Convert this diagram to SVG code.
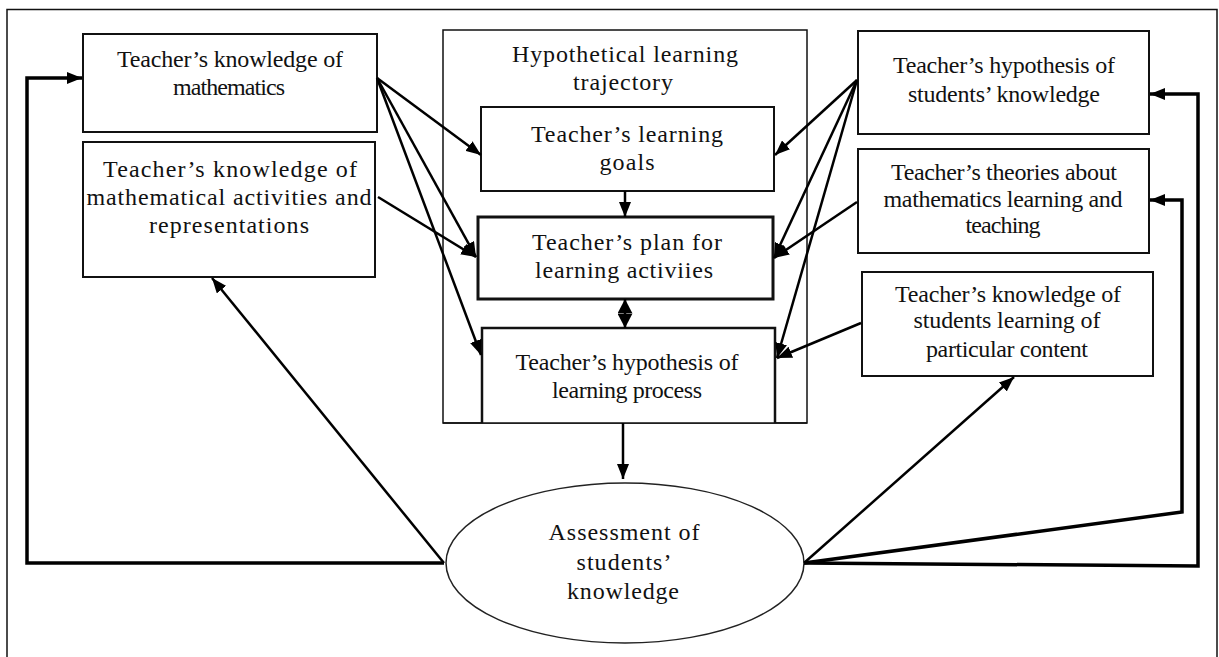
<svg xmlns="http://www.w3.org/2000/svg" width="1219" height="657" viewBox="0 0 1219 657">
<style>
  .box { fill: #fff; stroke: #111; stroke-width: 2; }
  .thin { fill: none; stroke: #111; stroke-width: 1.5; }
  .t { font-family: "Liberation Serif", "Times New Roman", serif; font-size: 24px; fill: #111; text-anchor: middle; }
  .c { fill: none; stroke: #000; stroke-width: 2.5; }
  .fb { fill: none; stroke: #000; stroke-width: 3.5; }
</style>
<defs>
  <marker id="ah" markerUnits="userSpaceOnUse" markerWidth="16" markerHeight="12" refX="15" refY="6" orient="auto">
    <path d="M0,0 L15,6 L0,12 z" fill="#000"/>
  </marker>
  <marker id="dh" markerUnits="userSpaceOnUse" markerWidth="15" markerHeight="15" refX="14.5" refY="7.5" orient="auto-start-reverse">
    <path d="M0,0 L14.5,7.5 L0,15 z" fill="#000"/>
  </marker>
</defs>
<rect width="1219" height="657" fill="#fff"/>
<path class="thin" d="M7,680 V9.5 H1217 V680"/>

<g id="node-math">
  <rect class="box" x="83" y="34" width="294" height="98"/>
  <text class="t" x="230" y="67" textLength="226" lengthAdjust="spacing">Teacher’s knowledge of</text>
  <text class="t" x="229" y="95" textLength="112" lengthAdjust="spacing">mathematics</text>
</g>
<g id="node-activities">
  <rect class="box" x="83" y="142" width="292" height="135"/>
  <text class="t" x="230" y="177" textLength="254" lengthAdjust="spacing">Teacher’s knowledge of</text>
  <text class="t" x="229" y="205" textLength="285" lengthAdjust="spacing">mathematical activities and</text>
  <text class="t" x="229" y="233" textLength="160" lengthAdjust="spacing">representations</text>
</g>

<g id="node-hlt">
  <rect class="thin" x="443" y="30" width="364" height="393"/>
  <text class="t" x="625" y="62" textLength="226" lengthAdjust="spacing">Hypothetical learning</text>
  <text class="t" x="623" y="90" textLength="100" lengthAdjust="spacing">trajectory</text>
</g>
<g id="node-goals">
  <rect class="box" x="481" y="107" width="293" height="84" stroke-width="2.5"/>
  <text class="t" x="627" y="142" textLength="192" lengthAdjust="spacing">Teacher’s learning</text>
  <text class="t" x="627" y="170" textLength="55" lengthAdjust="spacing">goals</text>
</g>
<g id="node-plan">
  <rect class="box" x="478" y="217" width="295" height="82" style="stroke-width:3"/>
  <text class="t" x="627" y="250" textLength="190" lengthAdjust="spacing">Teacher’s plan for</text>
  <text class="t" x="624" y="278" textLength="178" lengthAdjust="spacing">learning activiies</text>
</g>
<g id="node-process">
  <path d="M482,423 V328 H775 V423" fill="#fff" stroke="#111" stroke-width="2.5"/>
  <path class="thin" d="M443,423 H807"/>
  <text class="t" x="627" y="370" textLength="223" lengthAdjust="spacing">Teacher’s hypothesis of</text>
  <text class="t" x="627" y="398" textLength="150" lengthAdjust="spacing">learning process</text>
</g>

<g id="node-hyp-students">
  <rect class="box" x="858" y="31" width="291" height="103"/>
  <text class="t" x="1004" y="73" textLength="222" lengthAdjust="spacing">Teacher’s hypothesis of</text>
  <text class="t" x="1004" y="102" textLength="192" lengthAdjust="spacing">students’ knowledge</text>
</g>
<g id="node-theories">
  <rect class="box" x="858" y="149" width="291" height="104"/>
  <text class="t" x="1004" y="180" textLength="226" lengthAdjust="spacing">Teacher’s theories about</text>
  <text class="t" x="1003" y="207" textLength="239" lengthAdjust="spacing">mathematics  learning and</text>
  <text class="t" x="1003" y="233" textLength="75" lengthAdjust="spacing">teaching</text>
</g>
<g id="node-students-learning">
  <rect class="box" x="862" y="272" width="291" height="104"/>
  <text class="t" x="1008" y="302" textLength="226" lengthAdjust="spacing">Teacher’s knowledge of</text>
  <text class="t" x="1007" y="328" textLength="187" lengthAdjust="spacing">students learning of</text>
  <text class="t" x="1007" y="357" textLength="162" lengthAdjust="spacing">particular  content</text>
</g>

<g id="node-assessment">
  <ellipse cx="625" cy="563" rx="179" ry="80" fill="#fff" stroke="#222" stroke-width="1.5"/>
  <text class="t" x="624" y="540" textLength="151" lengthAdjust="spacing">Assessment of</text>
  <text class="t" x="624" y="570" textLength="95" lengthAdjust="spacing">students’</text>
  <text class="t" x="623" y="599" textLength="112" lengthAdjust="spacing">knowledge</text>
</g>

<g id="connectors">
  <path class="fb" d="M444,563 H27 V78 H82" marker-end="url(#ah)"/>
  <path class="c" d="M444,563 L212,278" marker-end="url(#ah)"/>
  <path class="c" d="M377,78 L481,155" marker-end="url(#ah)"/>
  <path class="c" d="M377,78 L476,257" marker-end="url(#ah)"/>
  <path class="c" d="M377,78 L481,355" marker-end="url(#ah)"/>
  <path class="c" d="M378,197 L476,257" marker-end="url(#ah)"/>
  <path class="c" d="M625,191 L625,217" marker-end="url(#ah)"/>
  <path class="c" d="M625,299 L625,328" marker-start="url(#dh)" marker-end="url(#dh)"/>
  <path class="c" d="M623,423 L623,479" marker-end="url(#ah)"/>
  <path class="c" d="M857,80 L775,155" marker-end="url(#ah)"/>
  <path class="c" d="M857,80 L774,258" marker-end="url(#ah)"/>
  <path class="c" d="M857,80 L777,358" marker-end="url(#ah)"/>
  <path class="c" d="M857,202 L774,258" marker-end="url(#ah)"/>
  <path class="c" d="M861,323 L777,358" marker-end="url(#ah)"/>
  <path class="c" d="M804,563 L1014,377" marker-end="url(#ah)"/>
  <path class="fb" d="M804,563 L1182,512 V200 H1150" marker-end="url(#ah)"/>
  <path class="fb" d="M804,563 L1198,566 V94 H1150" marker-end="url(#ah)"/>
</g>
</svg>
